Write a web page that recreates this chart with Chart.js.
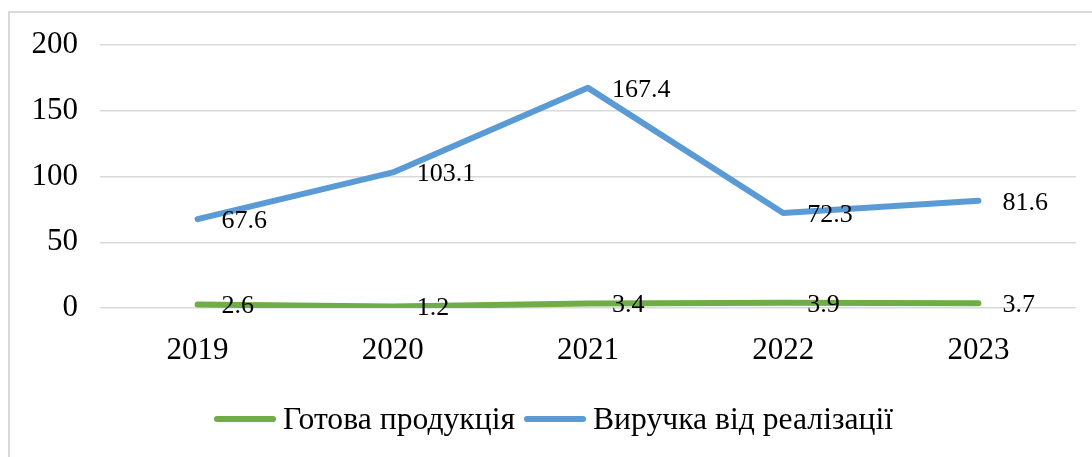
<!DOCTYPE html>
<html lang="uk">
<head>
<meta charset="utf-8">
<script src="https://cdn.jsdelivr.net/npm/chart.js@4.4.1/dist/chart.umd.min.js"></script>
<style>
  html, body { margin: 0; padding: 0; background: #fff; }
  #wrap { width: 1092px; height: 457px; position: relative; }
</style>
</head>
<body>
<div id="wrap"><canvas id="chart"></canvas></div>
<script>
const years = ['2019', '2020', '2021', '2022', '2023'];
const finishedGoods = [2.6, 1.2, 3.4, 3.9, 3.7];
const revenue = [67.6, 103.1, 167.4, 72.3, 81.6];
const yTicks = [0, 50, 100, 150, 200];

const seriesNames = ['Готова продукція', 'Виручка від реалізації'];
const seriesColors = ['#70AD47', '#5B9BD5'];

const serif = '"Liberation Serif", "Times New Roman", serif';

// light frame around the chart (only top and left edges are inside the picture)
const framePlugin = {
  id: 'frame',
  beforeDraw(chart) {
    const ctx = chart.ctx;
    ctx.save();
    ctx.strokeStyle = '#d9d9d9';
    ctx.lineWidth = 2;
    ctx.beginPath();
    ctx.moveTo(9, chart.height);
    ctx.lineTo(9, 12);
    ctx.lineTo(chart.width, 12);
    ctx.stroke();
    ctx.restore();
  }
};

// value labels to the right of each point
const valueLabels = {
  id: 'valueLabels',
  afterDatasetsDraw(chart) {
    const ctx = chart.ctx;
    ctx.save();
    ctx.font = '26px ' + serif;
    ctx.fillStyle = '#000';
    ctx.textAlign = 'left';
    ctx.textBaseline = 'middle';
    chart.data.datasets.forEach((ds, i) => {
      chart.getDatasetMeta(i).data.forEach((pt, j) => {
        ctx.fillText(ds.data[j].toFixed(1), pt.x + 24, pt.y + 2);
      });
    });
    ctx.restore();
  }
};

// legend drawn below, with the narrow serif look of the original
const bottomLegend = {
  id: 'bottomLegend',
  afterDraw(chart) {
    const ctx = chart.ctx;
    const y = 419;
    const items = [
      { x: 217, w: 232 },
      { x: 527, w: 300 }
    ];
    ctx.save();
    ctx.font = '32px ' + serif;
    ctx.textBaseline = 'middle';
    ctx.textAlign = 'left';
    chart.data.datasets.forEach((ds, i) => {
      const it = items[i];
      ctx.strokeStyle = ds.borderColor;
      ctx.lineWidth = 6;
      ctx.lineCap = 'round';
      ctx.beginPath();
      ctx.moveTo(it.x, y);
      ctx.lineTo(it.x + 56, y);
      ctx.stroke();
      const tx = it.x + 66;
      const natural = ctx.measureText(ds.label).width;
      const sx = it.w / natural;
      ctx.save();
      ctx.translate(tx, y + 2);
      ctx.scale(sx, 1);
      ctx.fillStyle = '#000';
      ctx.fillText(ds.label, 0, 0);
      ctx.restore();
    });
    ctx.restore();
  }
};

new Chart(document.getElementById('chart'), {
  type: 'line',
  data: {
    labels: years,
    datasets: [
      {
        label: seriesNames[0],
        data: finishedGoods,
        borderColor: seriesColors[0],
        backgroundColor: seriesColors[0],
        borderWidth: 6,
        borderCapStyle: 'round',
        borderJoinStyle: 'round',
        pointRadius: 0,
        tension: 0
      },
      {
        label: seriesNames[1],
        data: revenue,
        borderColor: seriesColors[1],
        backgroundColor: seriesColors[1],
        borderWidth: 6,
        borderCapStyle: 'round',
        borderJoinStyle: 'round',
        pointRadius: 0,
        tension: 0
      }
    ]
  },
  options: {
    responsive: true,
    maintainAspectRatio: false,
    animation: false,
    layout: { padding: { top: 45, right: 16, bottom: 74, left: 0 } },
    plugins: {
      legend: { display: false },
      tooltip: { enabled: false }
    },
    scales: {
      x: {
        offset: true,
        grid: { display: false, drawTicks: false },
        border: { display: false },
        ticks: {
          color: '#000',
          padding: 24,
          font: { family: serif, size: 31 }
        },
        afterFit(scale) { scale.height = 75; }
      },
      y: {
        min: 0,
        max: 200,
        afterBuildTicks(scale) {
          scale.ticks = yTicks.map((v) => ({ value: v }));
        },
        grid: { color: '#d9d9d9', lineWidth: 1.5, drawTicks: false },
        border: { display: false },
        ticks: {
          color: '#000',
          padding: 22,
          font: { family: serif, size: 31 }
        },
        afterFit(scale) { scale.width = 100; }
      }
    }
  },
  plugins: [framePlugin, valueLabels, bottomLegend]
});
</script>
</body>
</html>
